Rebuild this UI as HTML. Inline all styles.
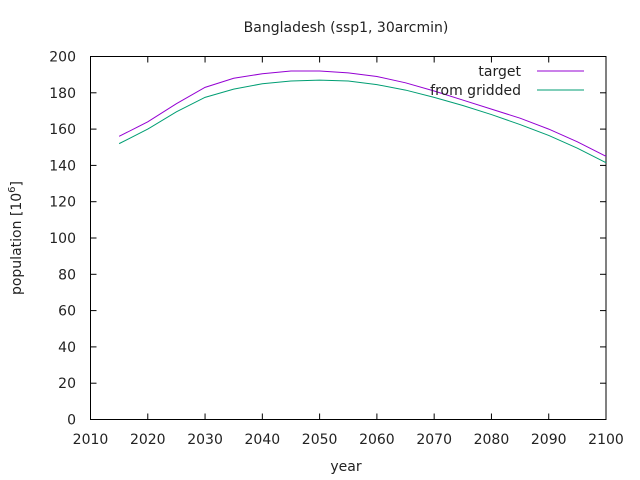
<!DOCTYPE html>
<html><head><meta charset="utf-8"><style>
body{margin:0;background:#fff;}
svg{display:block;font-family:"DejaVu Sans","Liberation Sans",sans-serif;}
</style></head><body>
<svg id="chart" width="640" height="480">
<rect width="640" height="480" fill="#fff"/>
<text x="346" y="32" font-size="14" text-anchor="middle" fill="#222">Bangladesh (ssp1, 30arcmin)</text>
<text x="346" y="471" font-size="14" text-anchor="middle" fill="#222">year</text>
<text transform="translate(21,238) rotate(-90)" font-size="14" text-anchor="middle" fill="#222">population [10<tspan dy="-6" font-size="10">6</tspan><tspan dy="6">]</tspan></text>
<g id="axes"></g>
<g id="series"></g>
<g>
<text x="521" y="76" font-size="14" text-anchor="end" fill="#222">target</text>
<line x1="537" y1="71" x2="584" y2="71" stroke="#9400d3" stroke-width="1"/>
<text x="521" y="95" font-size="14" text-anchor="end" fill="#222">from gridded</text>
<line x1="537" y1="90" x2="584" y2="90" stroke="#009e73" stroke-width="1"/>
</g>
</svg>
<script>
const years=[2015,2020,2025,2030,2035,2040,2045,2050,2055,2060,2065,2070,2075,2080,2085,2090,2095,2100];
const targetVals=[156,164,174,183,188,190.5,192,192,191,189,185.5,181,176,171,166,160,153,145];
const griddedVals=[152,160,169.5,177.5,182,185,186.5,187,186.5,184.5,181.5,177.5,173,168,162.5,156.5,149.5,141.5];
const xTicks=[2010,2020,2030,2040,2050,2060,2070,2080,2090,2100];
const yTicks=[0,20,40,60,80,100,120,140,160,180,200];
const L=90.5,R=606,T=56.5,B=419.5;
const xs=v=>L+(v-2010)/90*(R-L);
const ys=v=>B-v/200*(B-T);
const NS="http://www.w3.org/2000/svg";
const axes=document.getElementById('axes');
function mk(tag,attrs,parent){const e=document.createElementNS(NS,tag);for(const k in attrs)e.setAttribute(k,attrs[k]);parent.appendChild(e);return e;}
const frame=mk('rect',{x:L,y:T,width:R-L,height:B-T,fill:'none',stroke:'#000','stroke-width':1},axes);


xTicks.forEach(t=>{const x=xs(t);
const l1=mk('line',{x1:x,y1:B,x2:x,y2:B-6,stroke:'#000'},axes);


const l2=mk('line',{x1:x,y1:T,x2:x,y2:T+6,stroke:'#000'},axes);


const tx=mk('text',{x:x,y:444,'font-size':14,'text-anchor':'middle',fill:'#222'},axes);tx.textContent=t;


});
yTicks.forEach(t=>{const y=ys(t);
const l1=mk('line',{x1:L,y1:y,x2:L+6,y2:y,stroke:'#000'},axes);


const l2=mk('line',{x1:R,y1:y,x2:R-6,y2:y,stroke:'#000'},axes);


const tx=mk('text',{x:76,y:y+5,'font-size':14,'text-anchor':'end',fill:'#222'},axes);tx.textContent=t;


});
const ser=document.getElementById('series');
function line(vals,color,name){const p=mk('polyline',{points:years.map((y,i)=>xs(y)+','+ys(vals[i])).join(' '),fill:'none',stroke:color,'stroke-width':1},ser);

}
line(targetVals,'#9400d3','line-target');
line(griddedVals,'#009e73','line-from-gridded');
</script>
</body></html>
